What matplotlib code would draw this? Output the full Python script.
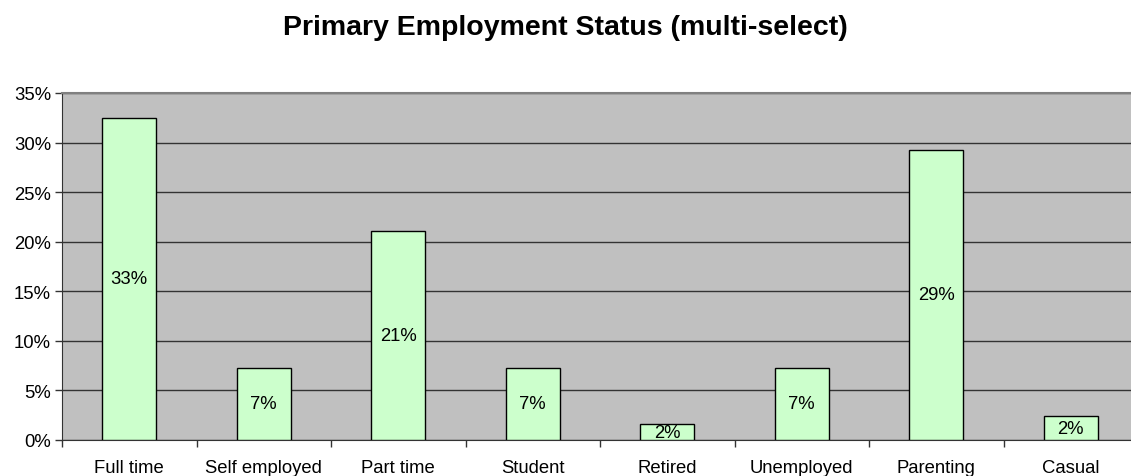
import matplotlib
matplotlib.use("Agg")
import matplotlib.pyplot as plt
import numpy as np
from matplotlib.ticker import FuncFormatter, MultipleLocator

plt.rcParams['font.family'] = ['Liberation Sans', 'DejaVu Sans']

categories = ["Full time", "Self employed", "Part time", "Student",
              "Retired", "Unemployed", "Parenting", "Casual"]
# share of respondents (%)
values = [32.5, 7.3, 21.1, 7.3, 1.6, 7.3, 29.3, 2.4]
labels = ["33%", "7%", "21%", "7%", "2%", "7%", "29%", "2%"]

fig = plt.figure(figsize=(11.31, 4.77), dpi=100)
ax = fig.add_axes([62/1131, 1-441/477, 1076/1131, 347/477])
ax.set_facecolor("#C0C0C0")

x = np.arange(len(categories))
ax.set_axisbelow(True)
ax.yaxis.grid(True, color="#333333", lw=1.0)
bars = ax.bar(x, values, width=0.4, color="#CCFFCC", edgecolor="black", lw=1.0, zorder=3)
for b, lab in zip(bars, labels):
    ax.text(b.get_x() + b.get_width()/2, b.get_height()/2, lab,
            ha="center", va="center", fontsize=13.3, zorder=4)

ax.set_xlim(-0.5, len(categories) - 0.5)
ax.set_ylim(0, 35)
ax.yaxis.set_major_locator(MultipleLocator(5))
ax.yaxis.set_major_formatter(FuncFormatter(lambda v, p: "%d%%" % v))
ax.set_xticks(x)
ax.set_xticklabels(categories)
ax.set_xticks(np.arange(-0.5, len(categories)), minor=True)
ax.tick_params(axis="x", which="major", length=0, pad=14, labelsize=13.3)
ax.tick_params(axis="x", which="minor", length=5, width=1, color="#333333")
ax.tick_params(axis="y", length=5, width=1, color="#333333", labelsize=13.3, pad=3)

for s in ["left", "bottom"]:
    ax.spines[s].set_color("#333333")
ax.spines["top"].set_color("#808080")
ax.spines["top"].set_linewidth(1.5)
ax.spines["right"].set_visible(False)

fig.text(0.5, 1-35/477, "Primary Employment Status (multi-select)",
         ha="center", va="baseline", fontsize=20.5, fontweight="bold")

fig.savefig("out.png", dpi=100)
